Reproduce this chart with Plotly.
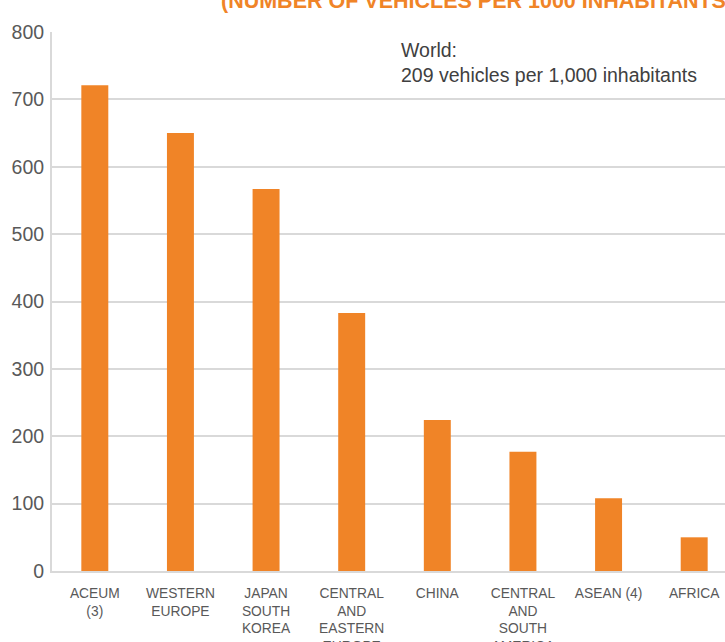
import plotly.graph_objects as go

categories = ["ACEUM<br>(3)", "WESTERN<br>EUROPE", "JAPAN<br>SOUTH<br>KOREA",
              "CENTRAL<br>AND<br>EASTERN<br>EUROPE", "CHINA",
              "CENTRAL<br>AND<br>SOUTH<br>AMERICA", "ASEAN (4)", "AFRICA"]
values = [721, 650, 567, 383, 224, 177, 108, 50]
y_ticks = [0, 100, 200, 300, 400, 500, 600, 700, 800]

W, H = 737, 650
L, T, B = 52, 32, 79
PW, PH = W - L, H - T - B

fig = go.Figure()
fig.add_trace(go.Bar(
    x=list(range(len(categories))), y=values,
    marker=dict(color="#F08427", line=dict(width=0)),
    width=0.315,
))

fig.update_layout(
    width=W, height=H,
    margin=dict(l=L, r=0, t=T, b=B, autoexpand=False),
    paper_bgcolor="white", plot_bgcolor="white",
    showlegend=False,
    font=dict(family="Liberation Sans, Arial, sans-serif", color="#595959"),
    xaxis=dict(
        range=[-0.5, 7.5], automargin=False,
        tickmode="array", tickvals=list(range(len(categories))), ticktext=categories,
        tickfont=dict(size=13.8, color="#595959"),
        showgrid=False, showline=True, linecolor="#D9D9D9", linewidth=2,
        ticks="", zeroline=False, ticklabelstandoff=8,
    ),
    yaxis=dict(
        range=[0, 800], tickvals=y_ticks, automargin=False,
        tickfont=dict(size=19.5, color="#595959"),
        showgrid=True, gridcolor="#D9D9D9", gridwidth=2,
        showline=True, linecolor="#D9D9D9", linewidth=2,
        zeroline=False, ticks="", ticklabelstandoff=2,
    ),
    annotations=[
        dict(text="<b>(NUMBER OF VEHICLES PER 1000 INHABITANTS)</b>",
             xref="paper", yref="paper", x=(219 - L) / PW, y=1.0 + (T - 15) / PH,
             xanchor="left", yanchor="bottom", showarrow=False,
             font=dict(size=21.5, color="#F08427")),
        dict(text="World:<br>209 vehicles per 1,000 inhabitants",
             xref="paper", yref="paper", x=(399 - L) / PW, y=1.0 - (37 - T) / PH,
             xanchor="left", yanchor="top", align="left", showarrow=False,
             font=dict(size=19.5, color="#404040")),
    ],
)

fig.write_html(
    "out.html",
    config={"displayModeBar": False},
    post_script="document.body.style.margin='0';document.body.style.overflow='hidden';"
                "document.documentElement.style.overflow='hidden';",
)
